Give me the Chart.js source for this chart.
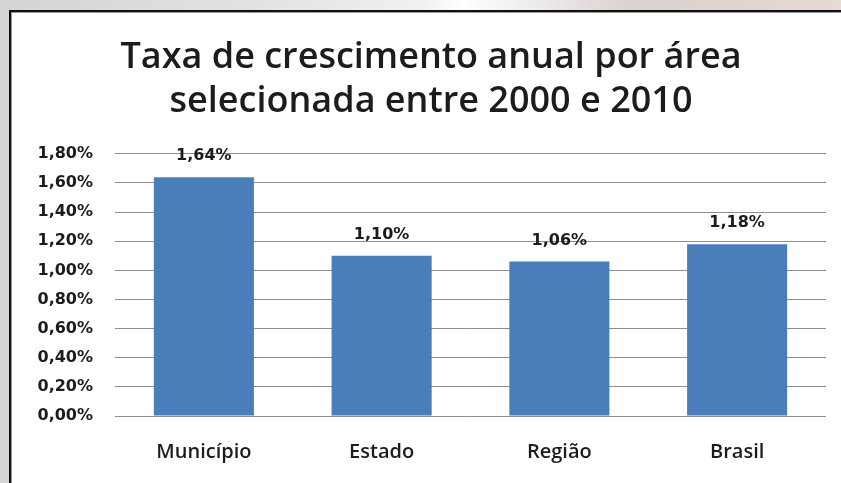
<!DOCTYPE html>
<html>
<head>
<meta charset="utf-8">
<script src="https://cdn.jsdelivr.net/npm/chart.js@4.4.1/dist/chart.umd.min.js"></script>
<style>
  html, body { margin: 0; padding: 0; }
  body {
    width: 841px; height: 483px; overflow: hidden; position: relative;
    background: linear-gradient(90deg, #d6d4d2 0%, #e4e2e0 30%, #f2f0ee 50%, #ffffff 55%, #d8d2d0 75%, #e8d8d6 100%);
  }
  #frame {
    position: absolute; left: 9px; top: 10px; width: 850px; height: 490px;
    background: #fff; border: 2px solid #111;
    box-shadow: inset 1px 1px 0 #9a9a9a;
  }
  #wrap { position: absolute; left: 0; top: 0; width: 841px; height: 483px; }
</style>
</head>
<body>
<div id="frame"></div>
<div id="wrap"><canvas id="myChart"></canvas></div>
<script>
// Data
const categories = ['Município', 'Estado', 'Região', 'Brasil'];
const growthRates = [1.64, 1.10, 1.06, 1.18];
const titleLines = ['Taxa de crescimento anual por área', 'selecionada entre 2000 e 2010'];
const yMin = 0;
const yMax = 1.8;
const yStep = 0.2;

const BAR_COLOR = '#4a7ebb';
const GRID_COLOR = '#8e8e8e';
const TEXT_COLOR = '#1c1c1c';

function fmtPct(v) {
  return v.toFixed(2).replace('.', ',') + '%';
}

// Value labels above each bar
const barLabels = {
  id: 'barLabels',
  afterDatasetsDraw(chart) {
    const ctx = chart.ctx;
    const meta = chart.getDatasetMeta(0);
    ctx.save();
    ctx.font = "bold 16px 'DejaVu Sans', sans-serif";
    ctx.fillStyle = TEXT_COLOR;
    ctx.textAlign = 'center';
    ctx.textBaseline = 'middle';
    meta.data.forEach((bar, i) => {
      ctx.fillText(fmtPct(growthRates[i]), bar.x, bar.y - 21);
    });
    ctx.restore();
  }
};

const ctx = document.getElementById('myChart').getContext('2d');
new Chart(ctx, {
  type: 'bar',
  data: {
    labels: categories,
    datasets: [{
      data: growthRates,
      backgroundColor: BAR_COLOR,
      borderWidth: 0,
      categoryPercentage: 1,
      barPercentage: 0.563
    }]
  },
  options: {
    responsive: true,
    maintainAspectRatio: false,
    animation: false,
    layout: {
      padding: { left: 36, right: 15, top: 0, bottom: 0 }
    },
    plugins: {
      legend: { display: false },
      tooltip: { enabled: false },
      title: {
        display: true,
        text: titleLines,
        color: TEXT_COLOR,
        font: { family: "'Open Sans', sans-serif", size: 36, weight: '600', lineHeight: 1.22 },
        padding: { top: 36, bottom: 30 }
      }
    },
    scales: {
      x: {
        afterFit(scale) { scale.height = 67; },
        grid: { display: false },
        border: { display: false },
        ticks: {
          color: TEXT_COLOR,
          padding: 16,
          font: { family: "'Open Sans', sans-serif", size: 20, weight: '600' }
        }
      },
      y: {
        min: yMin,
        max: yMax,
        afterFit(scale) { scale.width = 79; },
        grid: { color: GRID_COLOR, lineWidth: 1, drawTicks: false },
        border: { display: false },
        ticks: {
          stepSize: yStep,
          padding: 22,
          color: TEXT_COLOR,
          font: { family: "'DejaVu Sans', sans-serif", size: 16, weight: 'bold' },
          callback: (v) => fmtPct(v)
        }
      }
    }
  },
  plugins: [barLabels]
});
</script>
</body>
</html>
